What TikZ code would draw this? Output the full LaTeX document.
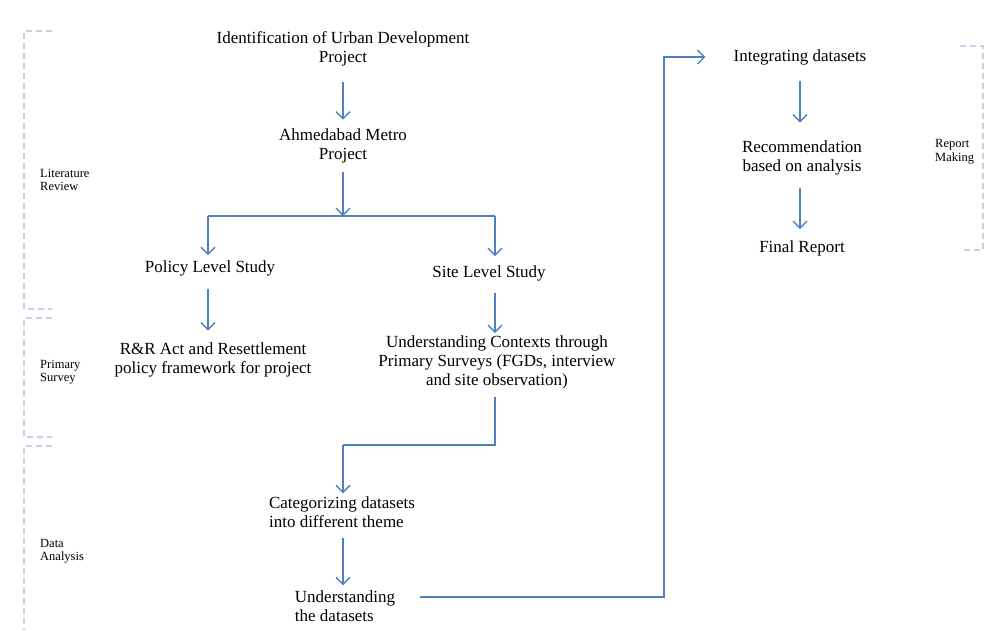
\documentclass[tikz,border=0pt]{standalone}
\usepackage{xcolor}
\usepackage{fontspec}
\setmainfont{Liberation Serif}
\usepackage{tikz}
\usetikzlibrary{arrows.meta, positioning, calc}

\definecolor{flowblue}{RGB}{79,129,189}
\definecolor{bracketgrey}{RGB}{196,210,230}

\begin{document}
\begin{tikzpicture}[
    x=1pt, y=-1pt,
    stage/.style={align=center, inner sep=0pt, font=\fontsize{17}{19}\selectfont},
    stageleft/.style={stage, align=left},
    phase/.style={anchor=west, align=left, inner sep=0pt, font=\fontsize{12.5}{13.5}\selectfont},
    link/.style={draw=flowblue, line width=1.6pt},
    arrow/.style={link, -{Straight Barb[length=7pt, width=14pt, line width=1.4pt]}},
    bracket/.style={draw=bracketgrey, line width=1.5pt, dash pattern=on 6pt off 4pt},
]
\useasboundingbox (0,0) rectangle (986,630);

% phase brackets
\draw[bracket] (52,31) -- (24,31) -- (24,309) -- (52,309);
\draw[bracket] (52,318) -- (24,318) -- (24,437) -- (52,437);
\draw[bracket] (52,446) -- (24,446) -- (24,630);
\draw[bracket] (960,46) -- (983,46) -- (983,250) -- (960,250);

\node[phase] (litreview) at (40,180) {Literature\\Review};
\node[phase] (primsurvey) at (40,372) {Primary\\Survey};
\node[phase] (dataanalysis) at (40,551) {Data\\Analysis};
\node[phase] (reportmaking) at (935,152) {Report\\Making};

% stages
\node[stage] (ident) at (343,49) {Identification of Urban Development\\Project};
\node[stage] (metro) at (343,146) {Ahmedabad Metro\\Project};
\node[stage] (policy) at (210,268) {Policy Level Study};
\node[stage] (site) at (489,273) {Site Level Study};
\node[stage] (rract) at (213,360) {R\&R Act and Resettlement\\policy framework for project};
\node[stage] (context) at (497,362) {Understanding Contexts through\\Primary Surveys (FGDs, interview\\and site observation)};
\node[stageleft] (categ) at (342,512) {Categorizing datasets\\into different theme};
\node[stageleft] (underst) at (345,606) {Understanding\\the datasets};
\node[stage] (integ) at (800,57) {Integrating datasets};
\node[stage] (recom) at (802,158) {Recommendation\\based on analysis};
\node[stage] (final) at (802,248) {Final Report};

\coordinate (split) at (343,216);
\coordinate (splitL) at (208,216);
\coordinate (splitR) at (495,216);
\coordinate (merge) at (343,445);
\coordinate (turn) at (664,597);

% connectors
\draw[arrow] ($(ident.south)+(0,16)$) -- ($(metro.north)+(0,-9)$);
\draw[arrow] ($(metro.south)+(0,9)$) -- (split);
\draw[link] (splitL) -- (splitR);
\draw[arrow] (splitL) -- ($(splitL |- policy.north)+(0,-5)$);
\draw[arrow] (splitR) -- ($(splitR |- site.north)+(0,-9)$);
\draw[arrow] ($(splitL |- policy.south)+(0,13)$) -- ($(splitL |- rract.north)+(0,-12)$);
\draw[arrow] ($(splitR |- site.south)+(0,12)$) -- ($(splitR |- context.north)+(0,-2)$);
\draw[link] ($(splitR |- context.south)+(0,8)$) |- (merge);
\draw[arrow] (merge) -- ($(merge |- categ.north)+(0,-3)$);
\draw[arrow] ($(merge |- categ.south)+(0,10)$) -- ($(merge |- underst.north)+(0,-5)$);
\draw[arrow] ($(underst.east |- turn)+(25,0)$) -- (turn) |- ($(integ.west)+(-28,0)$);
\draw[arrow] ($(integ.south)+(0,16)$) -- ($(integ.south |- recom.north)+(0,-18)$);
\draw[arrow] ($(integ.south |- recom.south)+(0,13)$) -- ($(integ.south |- final.north)+(0,-11)$);
\end{tikzpicture}
\end{document}
